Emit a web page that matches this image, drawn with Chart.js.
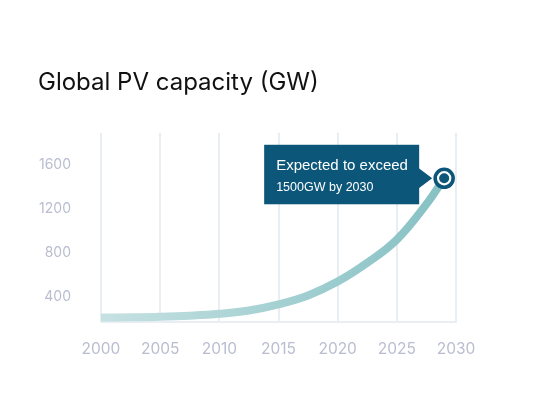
<!DOCTYPE html>
<html>
<head>
    <title>Global PV capacity</title>
    <script src="https://cdn.jsdelivr.net/npm/chart.js"></script>
    <style>
        body { margin: 0; background: #fff; }
        #wrap { width: 540px; height: 398px; }
    </style>
</head>
<body>
    <div id="wrap"><canvas id="pvChart" width="540" height="398"></canvas></div>

    <script>
        // values (GW)
        const years = [2000, 2002.5, 2005, 2007.5, 2010, 2012.5, 2015, 2017.5, 2020, 2022.5, 2025, 2027.5, 2029];
        const capacity = [215, 217, 222, 232, 249, 279, 335, 415, 540, 710, 920, 1240, 1474];
        const xTicks = [2000, 2005, 2010, 2015, 2020, 2025, 2030];
        const yTicks = [400, 800, 1200, 1600];
        const calloutLines = ['Expected to exceed', '1500GW by 2030'];

        const navy = '#0b5679';
        const gridColor = '#e9eef3';
        const tickColor = '#b9bdcf';

        const points = years.map((y, i) => ({ x: y, y: capacity[i] }));
        const lastPoint = points[points.length - 1];

        function lineGradient(context) {
            const area = context.chart.chartArea;
            if (!area) return '#9ccbcd';
            const g = context.chart.ctx.createLinearGradient(area.left, 0, area.right, 0);
            g.addColorStop(0, '#c6e1e2');
            g.addColorStop(1, '#84c0c3');
            return g;
        }

        // dark callout box pointing at the end marker
        const calloutPlugin = {
            id: 'callout',
            afterDatasetsDraw(chart) {
                const pt = chart.getDatasetMeta(1).data[0];
                if (!pt) return;
                const ctx = chart.ctx;
                const mx = pt.x, my = pt.y;
                const right = mx - 25, left = mx - 180;
                const top = my - 33.5, bottom = my + 26;
                ctx.save();
                ctx.fillStyle = navy;
                ctx.fillRect(left, top, right - left, bottom - top);
                ctx.beginPath();
                ctx.moveTo(right - 1, my - 10.5);
                ctx.lineTo(mx - 12, my);
                ctx.lineTo(right - 1, my + 10.5);
                ctx.closePath();
                ctx.fill();
                ctx.fillStyle = '#ffffff';
                ctx.textBaseline = 'alphabetic';
                ctx.font = '15px "Liberation Sans"';
                ctx.fillText(calloutLines[0], left + 12, my - 8);
                ctx.font = '12.5px "Liberation Sans"';
                ctx.fillText(calloutLines[1], left + 12, my + 12.5);
                ctx.restore();
            }
        };

        const ctx = document.getElementById('pvChart').getContext('2d');
        const pvChart = new Chart(ctx, {
            type: 'line',
            data: {
                datasets: [
                    {
                        // inner dot of the end marker
                        data: [lastPoint],
                        pointRadius: 5,
                        pointBorderWidth: 0,
                        pointBackgroundColor: navy,
                        showLine: false
                    },
                    {
                        // ring of the end marker
                        data: [lastPoint],
                        pointRadius: 9,
                        pointBorderWidth: 3.6,
                        pointBorderColor: navy,
                        pointBackgroundColor: '#ffffff',
                        showLine: false
                    },
                    {
                        data: points,
                        borderColor: lineGradient,
                        borderWidth: 8,
                        borderCapStyle: 'butt',
                        tension: 0.4,
                        pointRadius: 0,
                        fill: false
                    }
                ]
            },
            options: {
                responsive: false,
                animation: false,
                clip: false,
                layout: { padding: { top: 60, left: 38, right: 84, bottom: 40 } },
                plugins: {
                    legend: { display: false },
                    tooltip: { enabled: false },
                    title: {
                        display: true,
                        text: 'Global PV capacity (GW)',
                        align: 'start',
                        color: '#111111',
                        font: { family: 'Inter', size: 24, weight: 'normal' },
                        padding: { top: 8, bottom: 36 }
                    }
                },
                scales: {
                    x: {
                        type: 'linear',
                        min: 2000,
                        max: 2030,
                        afterBuildTicks: axis => { axis.ticks = xTicks.map(v => ({ value: v })); },
                        afterFit: axis => { axis.height = 36; },
                        grid: { color: gridColor, lineWidth: 2, drawTicks: false },
                        border: { color: gridColor, width: 2 },
                        ticks: {
                            color: tickColor,
                            padding: 18,
                            font: { family: 'Inter', size: 15.5 },
                            maxRotation: 0,
                            callback: v => String(v)
                        }
                    },
                    y: {
                        min: 175,
                        max: 1885,
                        afterBuildTicks: axis => { axis.ticks = yTicks.map(v => ({ value: v })); },
                        afterFit: axis => { axis.width = 63; },
                        grid: { display: false, drawTicks: false },
                        border: { display: false },
                        ticks: {
                            color: tickColor,
                            padding: 30,
                            font: { family: 'Inter', size: 14 },
                            callback: v => String(v)
                        }
                    }
                }
            },
            plugins: [calloutPlugin]
        });
    </script>
</body>
</html>
